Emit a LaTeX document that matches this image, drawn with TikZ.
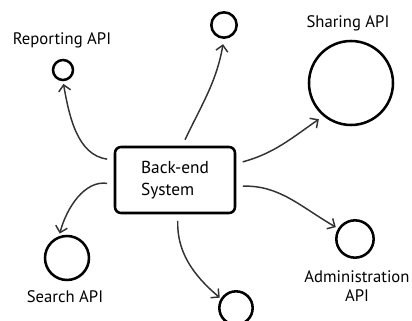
\documentclass[tikz,border=0pt]{standalone}
\usepackage{fontspec}
\setmainfont{PT Sans}
\usetikzlibrary{arrows.meta}

\tikzset{every picture/.style={line width=0.75pt}}
\tikzset{
	api/.style={draw, circle, line width=1.9pt},
	sysbox/.style={draw, rectangle, rounded corners=4.5pt, line width=1.9pt, minimum width=90pt, minimum height=49.5pt, align=left, font=\fontsize{13}{16}\selectfont},
	lbl/.style={align=center, font=\fontsize{12.5}{14}\selectfont},
	link/.style={draw=black!80, line width=1.1pt, -{Straight Barb[length=4.5pt,width=9pt]}, shorten <=5pt},
}

\begin{document}
\begin{tikzpicture}[x=0.75pt,y=0.75pt,yscale=-1,xscale=1]
	\useasboundingbox (0,0) rectangle (412,321);

	%Shape: Rectangle [id:backend]
	\node[sysbox] (backend) at (175,180) {Back-end\\System};

	%Shape: Circle [id:report]
	\node[api, minimum size=15pt] (report) at (63,70) {};
	%Shape: Circle [id:top]
	\node[api, minimum size=19pt] (topapi) at (224,25) {};
	%Shape: Circle [id:share]
	\node[api, minimum size=63pt] (share) at (351,83) {};
	%Shape: Circle [id:admin]
	\node[api, minimum size=28pt] (admin) at (355,239) {};
	%Shape: Circle [id:bottom]
	\node[api, minimum size=25pt] (botapi) at (236,308) {};
	%Shape: Circle [id:search]
	\node[api, minimum size=33pt] (search) at (67,258) {};

	%Curve Lines (angles mirrored by yscale=-1)
	\draw[link, shorten >=2pt] (backend.162) to[out=-172,in=80] (report.south);
	\draw[link, shorten >=4pt] (backend.78) to[out=-65,in=100] (topapi.south);
	\draw[link, shorten >=4pt] (backend.15) to[out=-15,in=145] (share.230);
	\draw[link, shorten >=2pt] (backend.354) to[out=-2,in=-150] (admin.148);
	\draw[link, shorten >=1pt] (backend.275) to[out=92,in=-140] (botapi.148);
	\draw[link, shorten >=2pt] (backend.184) to[out=-172,in=-75] (search.110);

	% Text Node
	\node[lbl] (reportlbl) at (62,40) {Reporting API};
	% Text Node
	\node[lbl] (sharelbl) at (348,23) {Sharing API};
	% Text Node
	\node[lbl] (searchlbl) at (65,297) {Search API};
	% Text Node
	\node[lbl] (adminlbl) at (357,286) {Administration\\API};

\end{tikzpicture}
\end{document}
